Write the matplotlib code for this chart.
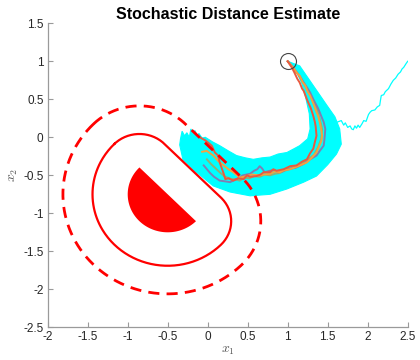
import numpy as np
import matplotlib
matplotlib.use("Agg")
import matplotlib.pyplot as plt

plt.rcParams['font.family'] = ['Liberation Sans', 'DejaVu Sans']
plt.rcParams['mathtext.fontset'] = 'cm'

# Obstacle: half-disk, its safety contour and the stochastic distance contour
obs_center = (-0.5, -0.75)
obs_radius = 0.5
obs_arc_deg = (135.0, 315.0)
safe_offset = 0.44
est_offset = 0.81

start_point = (1.0, 1.0)

# Envelope of the sampled trajectories (outer edge, then inner edge)
band_x = [1.00, 1.15, 1.32, 1.49, 1.59, 1.65, 1.67, 1.61, 1.50, 1.36, 1.20, 0.99,
          0.78, 0.53, 0.28, 0.07, -0.14, -0.31, -0.35, -0.34, -0.32, -0.29, -0.26,
          -0.23, -0.21, -0.18, -0.16, -0.13, -0.11, -0.07, -0.03, 0.06, 0.15, 0.26,
          0.36, 0.47, 0.57, 0.68, 0.78, 0.88, 0.99, 1.08, 1.15, 1.25, 1.28, 1.27,
          1.23, 1.18, 1.10, 1.04]
band_y = [1.00, 0.94, 0.68, 0.42, 0.27, 0.11, -0.09, -0.22, -0.36, -0.51, -0.59,
          -0.68, -0.75, -0.77, -0.72, -0.64, -0.46, -0.29, -0.10, -0.02, 0.08,
          0.02, 0.06, 0.00, 0.11, 0.04, 0.09, 0.02, 0.05, -0.01, 0.00, -0.06, -0.11,
          -0.18, -0.24, -0.27, -0.29, -0.27, -0.26, -0.22, -0.20, -0.15, -0.11,
          -0.02, 0.11, 0.31, 0.50, 0.70, 0.89, 0.97]

# A single trajectory that escaped the main cloud
stray_x = [1.62, 1.67, 1.70, 1.72, 1.75, 1.78, 1.80, 1.82, 1.84, 1.86, 1.88, 1.90,
           1.93, 1.95, 1.98, 2.01, 2.03, 2.05, 2.09, 2.12, 2.15, 2.16, 2.17, 2.20,
           2.22, 2.26, 2.28, 2.29, 2.32, 2.35, 2.38, 2.41, 2.43, 2.45, 2.48, 2.50]
stray_y = [0.20, 0.22, 0.16, 0.19, 0.13, 0.15, 0.11, 0.10, 0.15, 0.12, 0.16, 0.13,
           0.18, 0.22, 0.21, 0.30, 0.33, 0.35, 0.36, 0.40, 0.42, 0.49, 0.55, 0.56,
           0.60, 0.64, 0.68, 0.70, 0.75, 0.78, 0.83, 0.86, 0.90, 0.92, 0.97, 1.00]

# Highlighted sample paths
red_x = [1.00, 1.05, 1.08, 1.12, 1.15, 1.18, 1.20, 1.24, 1.26, 1.29, 1.32, 1.34,
         1.35, 1.36, 1.34, 1.32, 1.28, 1.24, 1.18, 1.11, 1.03, 0.95, 0.86, 0.82,
         0.78, 0.70, 0.66, 0.61, 0.53, 0.49, 0.45, 0.38, 0.32, 0.26, 0.22, 0.20,
         0.18, 0.15, 0.13, 0.09, 0.05, -0.03, -0.10]
red_y = [1.00, 0.92, 0.86, 0.77, 0.72, 0.64, 0.61, 0.50, 0.45, 0.38, 0.28, 0.20,
         0.14, 0.02, -0.06, -0.15, -0.21, -0.29, -0.32, -0.37, -0.38, -0.42,
         -0.44, -0.42, -0.46, -0.46, -0.49, -0.51, -0.52, -0.50, -0.55, -0.54,
         -0.57, -0.54, -0.55, -0.48, -0.42, -0.33, -0.24, -0.20, -0.11, -0.04, 0.00]

gray_x = [1.00, 1.06, 1.11, 1.16, 1.20, 1.25, 1.28, 1.32, 1.34, 1.38, 1.40, 1.43,
          1.45, 1.47, 1.46, 1.45, 1.40, 1.36, 1.28, 1.20, 1.10, 0.99, 0.93, 0.88,
          0.83, 0.78, 0.71, 0.68, 0.65, 0.62, 0.58, 0.53, 0.44, 0.36, 0.28, 0.22,
          0.15, 0.08, 0.03, -0.05]
gray_y = [1.00, 0.93, 0.86, 0.79, 0.72, 0.64, 0.59, 0.50, 0.46, 0.38, 0.33, 0.25,
          0.20, 0.11, -0.02, -0.11, -0.18, -0.24, -0.29, -0.35, -0.40, -0.42,
          -0.45, -0.46, -0.43, -0.44, -0.46, -0.41, -0.38, -0.42, -0.44, -0.48,
          -0.50, -0.55, -0.59, -0.58, -0.57, -0.52, -0.47, -0.37]

orange_x = [1.00, 1.04, 1.08, 1.12, 1.15, 1.19, 1.22, 1.25, 1.28, 1.31, 1.33, 1.36,
            1.38, 1.40, 1.41, 1.43, 1.42, 1.40, 1.36, 1.30, 1.24, 1.13, 1.03, 0.96,
            0.90, 0.84, 0.78, 0.70, 0.64, 0.55, 0.49, 0.40, 0.32, 0.26, 0.20, 0.13,
            0.07, -0.01, -0.07]
orange_y = [1.00, 0.95, 0.90, 0.84, 0.81, 0.72, 0.68, 0.60, 0.55, 0.47, 0.42, 0.33,
            0.28, 0.20, 0.15, 0.02, -0.05, -0.10, -0.20, -0.27, -0.33, -0.38,
            -0.42, -0.43, -0.46, -0.45, -0.48, -0.49, -0.50, -0.49, -0.51, -0.53,
            -0.46, -0.42, -0.37, -0.31, -0.24, -0.18, -0.19]

green_x = [1.00, 1.04, 1.07, 1.10, 1.13, 1.18, 1.22, 1.26, 1.30, 1.33, 1.36, 1.38,
           1.40, 1.42, 1.43, 1.42, 1.38, 1.33, 1.24, 1.15, 1.08, 1.02, 0.96, 0.90,
           0.84, 0.78, 0.71, 0.65, 0.58, 0.52, 0.46, 0.40, 0.34, 0.30, 0.22, 0.16,
           0.11, 0.04, -0.01]
green_y = [1.00, 0.95, 0.91, 0.86, 0.83, 0.74, 0.68, 0.60, 0.53, 0.46, 0.38, 0.31,
           0.24, 0.16, 0.10, -0.02, -0.13, -0.23, -0.30, -0.36, -0.39, -0.42,
           -0.44, -0.47, -0.48, -0.50, -0.49, -0.52, -0.51, -0.54, -0.53, -0.57,
           -0.55, -0.55, -0.52, -0.47, -0.42, -0.35, -0.29]

x_ticks = [-2, -1.5, -1, -0.5, 0, 0.5, 1, 1.5, 2, 2.5]
y_ticks = [-2.5, -2, -1.5, -1, -0.5, 0, 0.5, 1, 1.5]


def rounded_half_disk(center, radius, arc_deg, offset, n=200):
    """Boundary of a half-disk grown by a given offset distance."""
    cx, cy = center
    a0, a1 = np.radians(arc_deg[0]), np.radians(arc_deg[1])
    pa = np.array([cx + radius * np.cos(a0), cy + radius * np.sin(a0)])
    pb = np.array([cx + radius * np.cos(a1), cy + radius * np.sin(a1)])
    big = np.linspace(a0, a1, n)
    xs = list(cx + (radius + offset) * np.cos(big))
    ys = list(cy + (radius + offset) * np.sin(big))
    if offset > 0:
        nrm = a0 - np.pi / 2  # chord normal, pointing away from the disk
        cb = np.linspace(a1, a1 + np.pi / 2, n // 4)
        xs += list(pb[0] + offset * np.cos(cb))
        ys += list(pb[1] + offset * np.sin(cb))
        ca = np.linspace(nrm, a0, n // 4)
        xs += list(pa[0] + offset * np.cos(ca))
        ys += list(pa[1] + offset * np.sin(ca))
    xs.append(xs[0])
    ys.append(ys[0])
    return np.array(xs), np.array(ys)


fig = plt.figure(figsize=(4.2, 3.6), dpi=100)
ax = fig.add_axes([0.1136, 0.0908, 0.8571, 0.8445])

red = '#ff0000'

# Trajectory cloud
ax.fill(band_x, band_y, color='#00ffff', lw=0.8, ec='#00ffff', zorder=1)
ax.plot(stray_x, stray_y, color='#00ffff', lw=0.9, zorder=1)

ax.plot(green_x, green_y, color='#8db27a', lw=1.4, zorder=2)
ax.plot(gray_x, gray_y, color='#7d80b4', lw=1.4, zorder=2)
ax.plot(orange_x, orange_y, color='#f4a23e', lw=1.4, zorder=2)
ax.plot(red_x, red_y, color='#ea5a40', lw=1.4, zorder=3)

# Obstacle and contours
ox, oy = rounded_half_disk(obs_center, obs_radius, obs_arc_deg, 0.0)
ax.fill(ox, oy, color=red, lw=0, zorder=4)
sx, sy = rounded_half_disk(obs_center, obs_radius, obs_arc_deg, safe_offset)
ax.plot(sx, sy, color=red, lw=1.6, zorder=4)
ex, ey = rounded_half_disk(obs_center, obs_radius, obs_arc_deg, est_offset)
ax.plot(ex, ey, color=red, lw=2.0, dashes=(4, 2.6), zorder=4)

ax.plot([start_point[0]], [start_point[1]], marker='o', ms=11.5, mfc='none',
        mec='#444444', mew=0.8, zorder=5)

ax.set_xlim(-2, 2.5)
ax.set_ylim(-2.5, 1.5)
ax.set_xticks(x_ticks)
ax.set_yticks(y_ticks)
ax.set_xticklabels([f'{t:g}' for t in x_ticks])
ax.set_yticklabels([f'{t:g}' for t in y_ticks])

for side in ('top', 'right'):
    ax.spines[side].set_visible(False)
for side in ('left', 'bottom'):
    ax.spines[side].set_color('#9a9a9a')
    ax.spines[side].set_linewidth(0.9)
ax.tick_params(direction='in', length=3.5, width=0.8, color='#9a9a9a',
               labelcolor='#262626', labelsize=8.5, pad=3)

ax.set_xlabel(r'$x_1$', fontsize=10, color='#555555', labelpad=0)
ax.set_ylabel(r'$x_2$', fontsize=10, color='#555555', labelpad=2)
ax.set_title('Stochastic Distance Estimate', fontsize=11.5, fontweight='bold',
             color='#000000', pad=3)

fig.savefig('out.png', dpi=100)
